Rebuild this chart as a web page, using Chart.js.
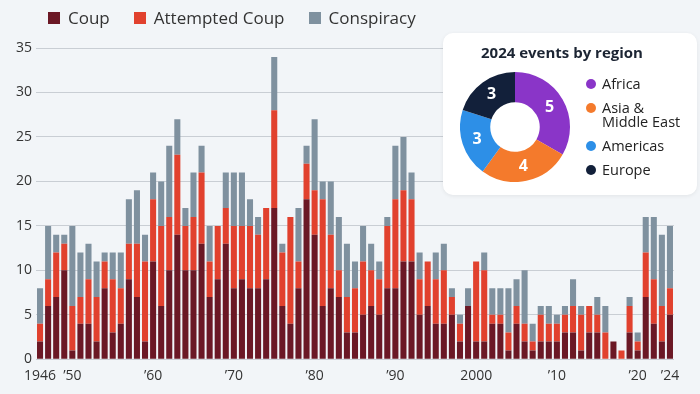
<!DOCTYPE html>
<html>
<head>
<meta charset="utf-8">
<script src="https://cdn.jsdelivr.net/npm/chart.js@4.4.1/dist/chart.umd.min.js"></script>
<style>
  html, body { margin: 0; padding: 0; background: #f2f5f8; }
  #wrap { position: relative; width: 700px; height: 394px; background: #f2f5f8; font-family: 'Open Sans', sans-serif; overflow: hidden; }
  #bars { position: absolute; left: 0; top: 0; }
  #legend { position: absolute; left: 48px; top: 6px; display: flex; align-items: center; font-size: 17px; color: #333; line-height: 23px; }
  #legend .item { display: flex; align-items: center; margin-right: 24px; }
  #legend .sw { width: 12px; height: 12px; margin-right: 8px; }
  #panel { position: absolute; left: 443px; top: 33px; width: 254px; height: 162px; background: #fff; border-radius: 10px; box-shadow: 0 1px 4px rgba(0,0,0,.07); }
  #panel h4 { position: absolute; left: 38px; top: 10px; margin: 0; font-size: 15px; line-height: 18px; font-weight: 700; color: #1c2533; white-space: nowrap; }
  #donut { position: absolute; left: 17px; top: 39px; }
  #regions { position: absolute; left: 143px; top: 44px; font-size: 14.5px; line-height: 14px; color: #222; }
  #regions .row { display: flex; align-items: flex-start; margin-bottom: 10px; white-space: pre-line; }
  #regions .dot { width: 10px; height: 10px; border-radius: 50%; margin: 2px 6px 0 0; flex: none; }
</style>
</head>
<body>
<div id="wrap">
  <canvas id="bars" width="700" height="394"></canvas>
  <div id="legend"></div>
  <div id="panel">
    <h4>2024 events by region</h4>
    <canvas id="donut" width="110" height="110"></canvas>
    <div id="regions"></div>
  </div>
</div>
<script>
/* ── Data ──────────────────────────────────────────────────────────────── */
const YEARS = [
  1946, 1947, 1948, 1949, 1950, 1951, 1952, 1953, 1954, 1955,
  1956, 1957, 1958, 1959, 1960, 1961, 1962, 1963, 1964, 1965,
  1966, 1967, 1968, 1969, 1970, 1971, 1972, 1973, 1974, 1975,
  1976, 1977, 1978, 1979, 1980, 1981, 1982, 1983, 1984, 1985,
  1986, 1987, 1988, 1989, 1990, 1991, 1992, 1993, 1994, 1995,
  1996, 1997, 1998, 1999, 2000, 2001, 2002, 2003, 2004, 2005,
  2006, 2007, 2008, 2009, 2010, 2011, 2012, 2013, 2014, 2015,
  2016, 2017, 2018, 2019, 2020, 2021, 2022, 2023, 2024,
];

const COUP = [
  2, 6, 7, 10, 1, 4, 4, 2, 8, 3,
  4, 9, 7, 2, 11, 6, 10, 14, 10, 10,
  13, 7, 9, 13, 8, 9, 8, 8, 9, 17,
  6, 4, 8, 18, 14, 6, 8, 7, 3, 3,
  5, 6, 5, 8, 8, 11, 11, 5, 6, 4,
  4, 5, 2, 6, 2, 2, 4, 4, 1, 4,
  2, 1, 2, 2, 2, 3, 3, 1, 3, 3,
  0, 2, 0, 3, 1, 7, 4, 2, 5,
];

const ATTEMPTED = [
  2, 3, 5, 3, 5, 3, 5, 5, 3, 6,
  4, 4, 6, 9, 7, 9, 6, 9, 5, 6,
  8, 4, 6, 4, 7, 6, 7, 6, 8, 11,
  6, 12, 3, 4, 5, 12, 6, 3, 4, 5,
  6, 4, 4, 7, 10, 8, 7, 4, 5, 5,
  6, 2, 2, 0, 9, 8, 1, 1, 2, 2,
  2, 1, 3, 2, 2, 2, 3, 4, 3, 2,
  3, 0, 1, 3, 1, 5, 5, 4, 3,
];

const CONSPIRACY = [
  4, 6, 2, 1, 9, 5, 4, 4, 1, 3,
  4, 5, 6, 3, 3, 5, 8, 4, 2, 5,
  3, 4, 0, 4, 6, 6, 3, 2, 0, 6,
  1, 0, 6, 2, 8, 2, 6, 6, 6, 3,
  4, 3, 2, 1, 6, 6, 3, 3, 0, 3,
  3, 1, 1, 2, 0, 2, 3, 3, 5, 3,
  6, 2, 1, 2, 1, 1, 3, 1, 0, 2,
  3, 0, 0, 1, 1, 4, 7, 8, 7,
];

const TICK_YEARS  = [1946, 1950, 1960, 1970, 1980, 1990, 2000, 2010, 2020, 2024];
const TICK_LABELS = ['1946', '\u201950', '\u201960', '\u201970', '\u201980', '\u201990', '2000', '\u201910', '\u201920', '\u201924'];

const SERIES_NAMES  = ['Coup', 'Attempted Coup', 'Conspiracy'];
const SERIES_COLORS = ['#6b1825', '#e1412e', '#7f919f'];

const REGION_LABELS = ['Africa', 'Asia &\nMiddle East', 'Americas', 'Europe'];
const REGION_VALUES = [5, 4, 3, 3];
const REGION_COLORS = ['#8a35c8', '#f47a2c', '#2d8fe7', '#12203a'];

/* ── Defaults ──────────────────────────────────────────────────────────── */
Chart.defaults.font.family = "'Open Sans', sans-serif";
Chart.defaults.color = '#333';

/* ── Top legend (HTML) ─────────────────────────────────────────────────── */
const legend = document.getElementById('legend');
SERIES_NAMES.forEach((name, i) => {
  const it = document.createElement('div');
  it.className = 'item';
  it.innerHTML = `<span class="sw" style="background:${SERIES_COLORS[i]}"></span>${name}`;
  legend.appendChild(it);
});

/* ── Stacked bars ──────────────────────────────────────────────────────── */
const SERIES_DATA = [COUP, ATTEMPTED, CONSPIRACY];

new Chart(document.getElementById('bars'), {
  type: 'bar',
  data: {
    labels: YEARS,
    datasets: SERIES_DATA.map((d, i) => ({
      label:              SERIES_NAMES[i],
      data:               d,
      backgroundColor:    SERIES_COLORS[i],
      borderWidth:        0,
      categoryPercentage: 1,
      barPercentage:      0.75,
    })),
  },
  options: {
    responsive: false,
    animation:  false,
    layout: { padding: { top: 48, right: 26, bottom: 0, left: 0 } },
    plugins: { legend: { display: false }, tooltip: { enabled: false } },
    scales: {
      x: {
        stacked: true,
        grid:    { display: false },
        border:  { display: false },
        ticks: {
          autoSkip: false, maxRotation: 0, minRotation: 0, padding: 0,
          font: { size: 14 }, color: '#333',
          callback: (v, i) => {
            const k = TICK_YEARS.indexOf(YEARS[i]);
            return k >= 0 ? TICK_LABELS[k] : '';
          },
        },
        afterFit: s => { s.height = 34.7; },
      },
      y: {
        stacked: true,
        min: 0, max: 35,
        grid:   { color: '#c9ced4', drawTicks: false },
        border: { display: false },
        ticks:  { stepSize: 5, padding: 4, font: { size: 14 }, color: '#333' },
        afterFit: s => { s.width = 36; },
      },
    },
  },
});

/* ── Region doughnut ───────────────────────────────────────────────────── */
const valueLabels = {
  id: 'valueLabels',
  afterDatasetsDraw(chart) {
    const ctx = chart.ctx;
    ctx.save();
    ctx.font = "bold 16px 'Open Sans', sans-serif";
    ctx.fillStyle = '#fff';
    ctx.textAlign = 'center';
    ctx.textBaseline = 'middle';
    chart.getDatasetMeta(0).data.forEach((arc, i) => {
      const p = arc.tooltipPosition();
      ctx.fillText(String(REGION_VALUES[i]), p.x, p.y);
    });
    ctx.restore();
  },
};

new Chart(document.getElementById('donut'), {
  type: 'doughnut',
  data: {
    labels: REGION_LABELS,
    datasets: [{ data: REGION_VALUES, backgroundColor: REGION_COLORS, borderWidth: 0 }],
  },
  options: {
    responsive: false,
    animation:  false,
    cutout:     '45%',
    layout:     { padding: 0 },
    plugins:    { legend: { display: false }, tooltip: { enabled: false } },
  },
  plugins: [valueLabels],
});

const regions = document.getElementById('regions');
REGION_LABELS.forEach((name, i) => {
  const row = document.createElement('div');
  row.className = 'row';
  row.innerHTML = `<span class="dot" style="background:${REGION_COLORS[i]}"></span><span>${name.replace('&', '&amp;')}</span>`;
  regions.appendChild(row);
});
</script>
</body>
</html>
